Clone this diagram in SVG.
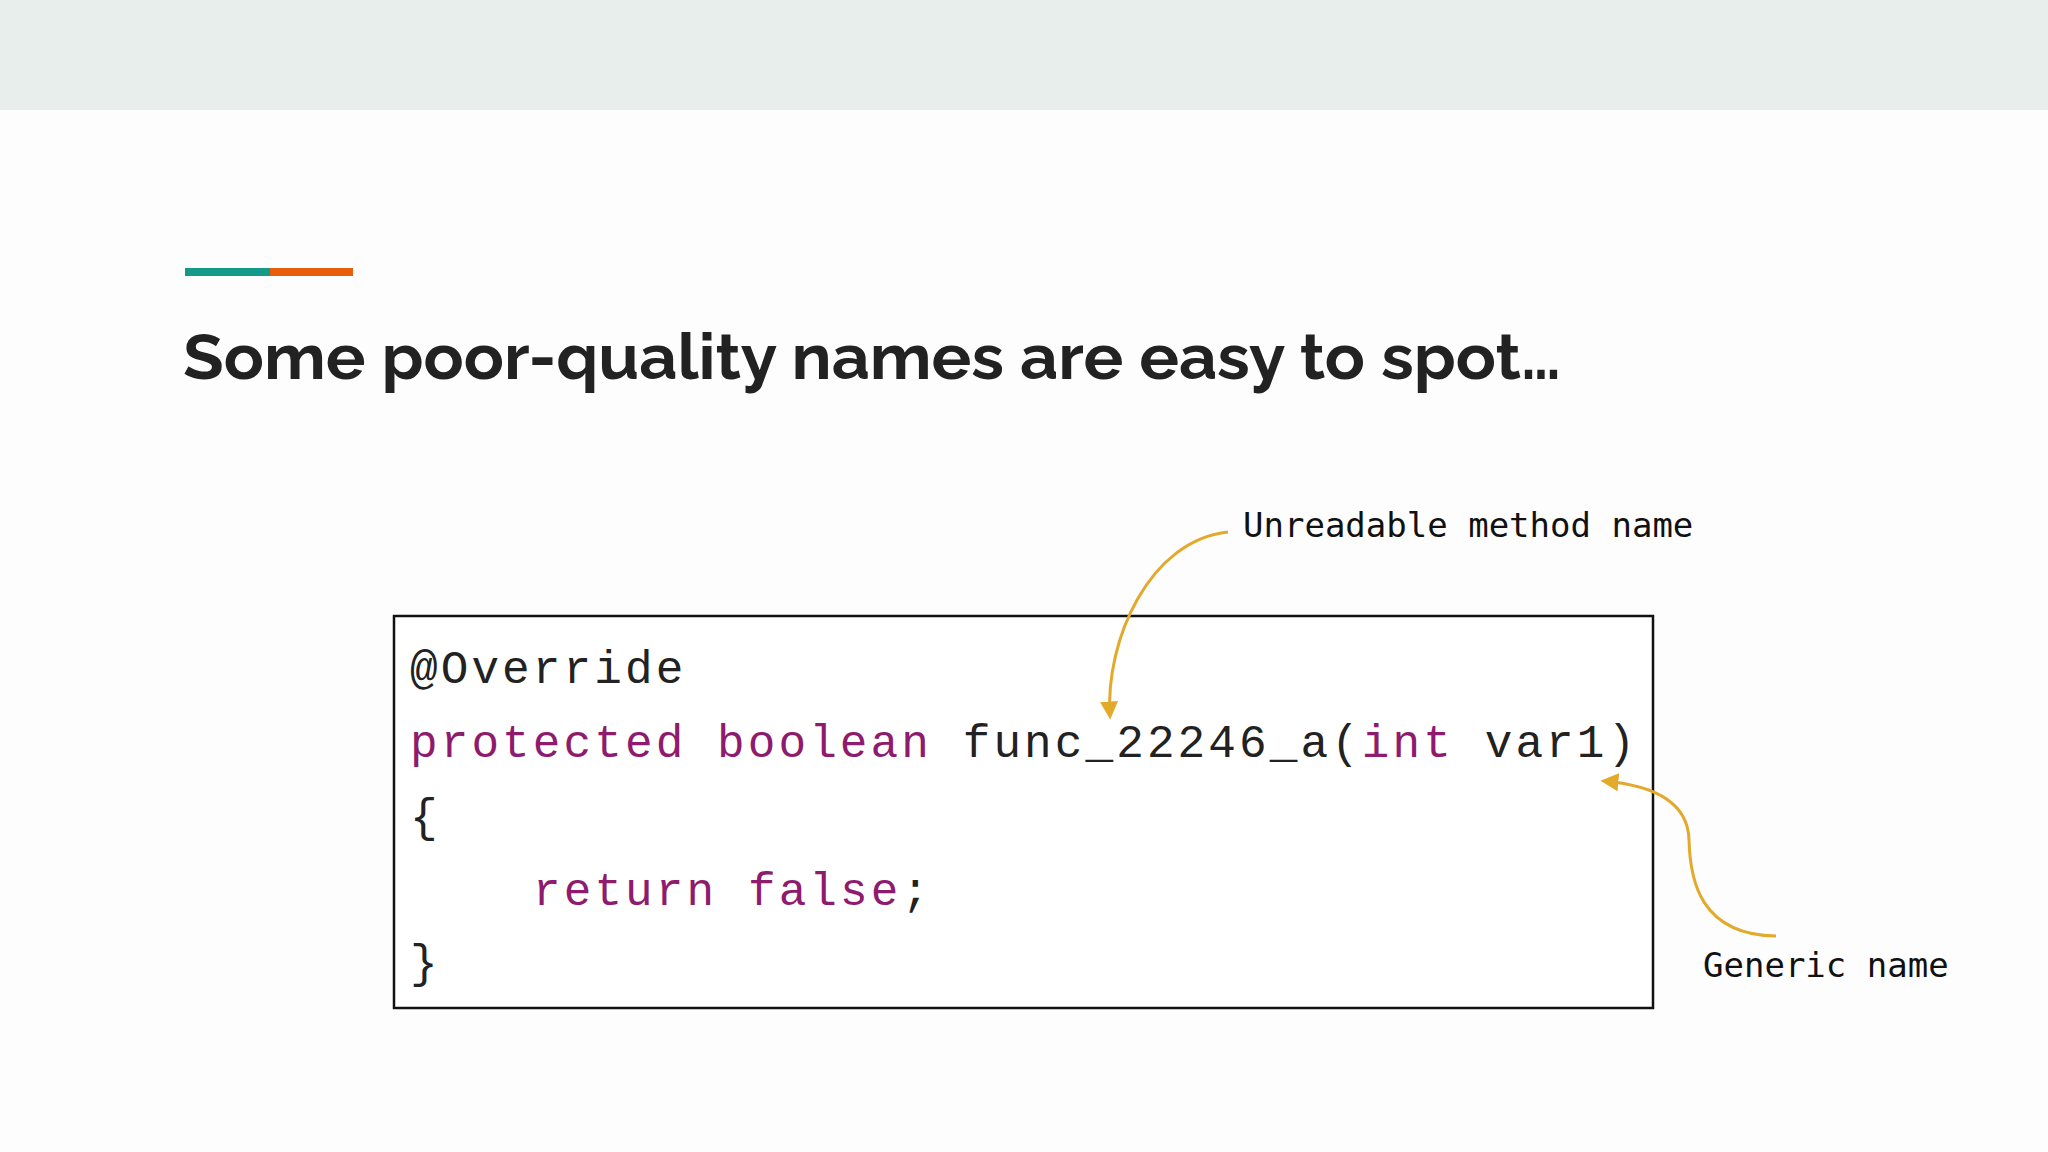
<svg xmlns="http://www.w3.org/2000/svg" width="2048" height="1152" viewBox="0 0 2048 1152">
<style>
.code{font-family:"Liberation Mono","DejaVu Sans Mono",monospace;font-size:46px;letter-spacing:3.1px;fill:#222}
.kw{fill:#8e1b6e}
.lbl{font-family:"DejaVu Sans Mono",monospace;font-size:34px;fill:#111}
.arr{fill:none;stroke:#e3a92b;stroke-width:3}
</style>
<defs><marker id="ah" viewBox="0 0 10 10" refX="8" refY="5" markerWidth="6" markerHeight="6" orient="auto"><path d="M0,0L10,5L0,10z" fill="#e3a92b"/></marker></defs>
<rect width="2048" height="1152" fill="#fdfdfd"/>
<rect width="2048" height="110" fill="#e8eeec"/>
<rect x="185" y="268" width="85" height="8" fill="#14998a"/>
<rect x="270" y="268" width="83" height="8" fill="#e85d0c"/>
<text x="183" y="379" font-family="Raleway,'Open Sans',sans-serif" font-weight="bold" font-size="64" fill="#222" textLength="1378" lengthAdjust="spacingAndGlyphs">Some poor-quality names are easy to spot…</text>
<g id="codebox">
<rect x="394" y="616" width="1259" height="392" fill="#fff" stroke="#111" stroke-width="2.5"/>
<text class="code" x="410" y="683">@Override</text>
<text class="code" x="410" y="757"><tspan class="kw">protected boolean</tspan> func_22246_a(<tspan class="kw">int</tspan> var1)</text>
<text class="code" x="410" y="831">{</text>
<text class="code" x="533" y="905"><tspan class="kw">return false</tspan>;</text>
<text class="code" x="410" y="977">}</text>
</g>
<g id="label1"><text class="lbl" x="1243" y="537">Unreadable method name</text></g>
<g id="label2"><text class="lbl" x="1703" y="977">Generic name</text></g>
<g id="connectors">
<path class="arr" marker-end="url(#ah)" d="M1228,532 C1150,540 1105,640 1110,716"/>
<path class="arr" marker-end="url(#ah)" d="M1776,936 C1700,935 1690,880 1689,840 C1688,800 1650,785 1604,781"/>
</g>
</svg>
